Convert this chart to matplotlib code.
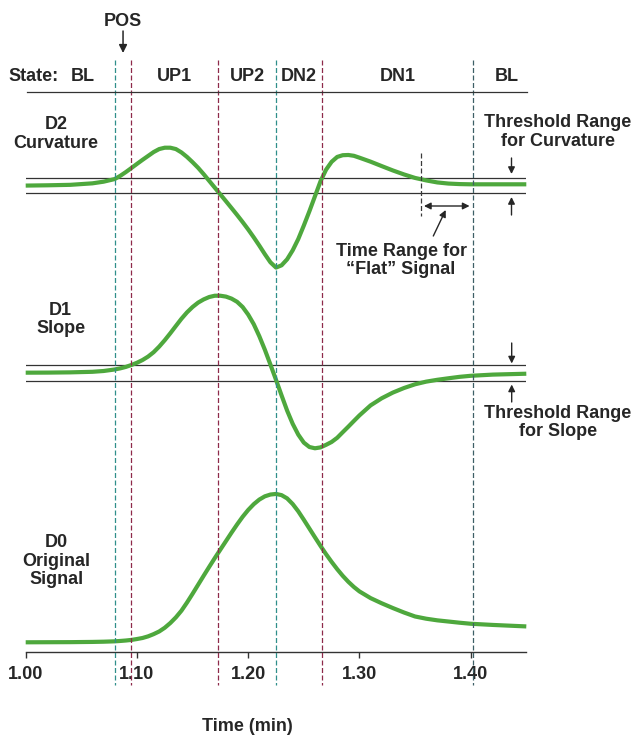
import numpy as np
import matplotlib.pyplot as plt
from matplotlib.transforms import blended_transform_factory

plt.rcParams['font.family'] = ['Liberation Sans', 'DejaVu Sans']
plt.rcParams['font.weight'] = 'bold'

#-----------------------------------
#------ data ----
#-----------------------------------
time = [1.00, 1.02, 1.04, 1.06, 1.07,
        1.080, 1.085, 1.090, 1.095, 1.100, 1.105, 1.110, 1.115, 1.120, 1.125,
        1.130, 1.135, 1.140, 1.145, 1.150, 1.155, 1.160, 1.165, 1.170, 1.175,
        1.180, 1.185, 1.190, 1.195, 1.200, 1.205, 1.210, 1.215, 1.220, 1.225,
        1.230, 1.235, 1.240, 1.245, 1.250, 1.255, 1.260, 1.265, 1.270, 1.275,
        1.280, 1.285, 1.290, 1.295, 1.300,
        1.31, 1.32, 1.33, 1.34, 1.35, 1.36, 1.37, 1.38, 1.39, 1.40, 1.42, 1.45]

# D0 original signal (peak = 100)
d0 = [0.0, 0.05, 0.1, 0.25, 0.4,
      0.65, 0.9, 1.2, 1.6, 2.2, 2.9, 4.0, 5.5, 7.3, 9.8,
      13.0, 16.8, 21.3, 26.8, 32.7, 38.8, 44.9, 50.9, 56.8, 62.5,
      68.2, 73.9, 79.4, 84.6, 89.2, 93.1, 96.2, 98.4, 99.6, 100.0,
      99.2, 97.0, 93.2, 88.3, 82.6, 76.7, 70.8, 65.0, 59.4, 54.2,
      49.3, 44.8, 40.8, 37.3, 34.3,
      29.8, 26.3, 23.1, 20.1, 17.4, 15.9, 14.8, 14.0, 13.2, 12.5, 11.7, 10.7]

# D1 slope (threshold = +/-1)
d1 = [0.04, 0.05, 0.08, 0.15, 0.25,
      0.44, 0.58, 0.76, 1.00, 1.28, 1.62, 2.05, 2.60, 3.30, 4.10,
      4.97, 5.88, 6.78, 7.58, 8.25, 8.80, 9.20, 9.50, 9.66, 9.66,
      9.55, 9.30, 8.90, 8.25, 7.30, 6.10, 4.60, 2.90, 1.05, -0.85,
      -2.80, -4.70, -6.35, -7.70, -8.70, -9.25, -9.41, -9.30, -8.98, -8.62,
      -8.10, -7.40, -6.71, -6.00, -5.30,
      -4.05, -3.16, -2.45, -1.88, -1.41, -1.08, -0.85, -0.66, -0.48, -0.35, -0.20, -0.09]

# D2 curvature (threshold = +/-1)
d2 = [0.03, 0.07, 0.13, 0.33, 0.55,
      0.90, 1.33, 1.83, 2.37, 2.92, 3.46, 3.98, 4.50, 4.90, 5.08,
      5.08, 4.90, 4.45, 3.85, 3.15, 2.40, 1.55, 0.65, -0.25, -1.15,
      -2.05, -2.96, -3.88, -4.83, -5.82, -6.87, -7.97, -9.12, -10.20, -10.90,
      -10.60, -9.80, -8.60, -7.10, -5.30, -3.40, -1.40, 0.60, 2.15, 3.20,
      3.85, 4.08, 4.11, 4.00, 3.75,
      3.22, 2.63, 2.05, 1.52, 1.05, 0.72, 0.45, 0.30, 0.23, 0.20, 0.20, 0.20]

threshold = 1.0
state_bounds = [1.080, 1.095, 1.173, 1.225, 1.266, 1.402]
bound_colors = ["#2f8f8a", "#8e2a4a", "#8e2a4a", "#2f8f8a", "#8e2a4a", "#3d5f66"]
states = ["UP1", "UP2", "DN2", "DN1", "BL"]
flat_start = 1.355
xticks = [1.00, 1.10, 1.20, 1.30, 1.40]

green = "#4ea83d"
ink = "#262626"
fs = 13

W, H = 635, 735
fig = plt.figure(figsize=(W / 100, H / 100), dpi=100)

left, right = 25.7, 526.3
def panel(top, bottom, ylim):
    ax = fig.add_axes([left / W, 1 - bottom / H, (right - left) / W, (bottom - top) / H])
    ax.set_xlim(1.0, 1.45)
    ax.set_ylim(*ylim)
    ax.patch.set_alpha(0)
    for s in ax.spines.values():
        s.set_visible(False)
    ax.set_xticks([])
    ax.set_yticks([])
    return ax

ax2 = panel(100, 290, (-13.89, 11.44))
ax1 = panel(290, 460, (-10.875, 10.375))
ax0 = panel(480, 651.7, (-6.34, 109.4))

for ax in (ax2, ax1):
    ax.axhline(threshold, color="#333333", lw=0.9, zorder=1)
    ax.axhline(-threshold, color="#333333", lw=0.9, zorder=1)

for ax, d in ((ax2, d2), (ax1, d1), (ax0, d0)):
    ax.plot(time, d, color=green, lw=3, solid_joinstyle="round",
            solid_capstyle="butt", clip_on=False, zorder=3)

# time axis
ax0.spines["bottom"].set_visible(True)
ax0.spines["bottom"].set_color("#333333")
ax0.spines["bottom"].set_linewidth(1.0)
ax0.set_xticks(xticks)
ax0.set_xticklabels(["%.2f" % t for t in xticks])
ax0.tick_params(axis="x", direction="out", length=4, width=1, color="#333333",
                labelsize=13, labelcolor=ink, pad=6)

# layout overlay in pixel rows
lay = fig.add_axes([0, 0, 1, 1])
lay.set_xlim(0, W)
lay.set_ylim(H, 0)
lay.axis("off")
tr = blended_transform_factory(ax0.transData, lay.transData)

for b, c in zip(state_bounds, bound_colors):
    lay.plot([b, b], [60, 685], transform=tr, color=c, lw=0.9,
             ls=(0, (4, 2)), clip_on=False, zorder=2)
lay.plot([flat_start, flat_start], [153, 216], transform=tr, color="#3a3a3a",
         lw=0.9, ls=(0, (4, 2)), clip_on=False)

# state row
lay.plot([27, 527], [92, 92], color="#333333", lw=0.9)
lay.text(8, 76.7, "State:", ha="left", va="center", fontsize=fs, color=ink)
lay.text(1.051, 76.7, "BL", transform=tr, ha="center", va="center", fontsize=fs, color=ink)
for name, a, b in zip(states, state_bounds[1:], state_bounds[2:] + [1.462]):
    lay.text((a + b) / 2, 76.7, name, transform=tr, ha="center", va="center",
             fontsize=fs, color=ink)

pos_x = (state_bounds[0] + state_bounds[1]) / 2
lay.text(pos_x, 21.7, "POS", transform=tr, ha="center", va="center", fontsize=fs, color=ink)
lay.annotate("", xy=(pos_x, 53), xytext=(pos_x, 31), xycoords=tr, textcoords=tr,
             arrowprops=dict(arrowstyle="-|>", color=ink, lw=1.1, mutation_scale=12,
                             shrinkA=0, shrinkB=0))

# panel names
lay.text(56, 134, "D2\nCurvature", ha="center", va="center", fontsize=fs,
         color=ink, linespacing=1.15)
lay.text(60.7, 319.5, "D1\nSlope", ha="center", va="center", fontsize=fs,
         color=ink, linespacing=1.15)
lay.text(56.7, 561, "D0\nOriginal\nSignal", ha="center", va="center", fontsize=fs,
         color=ink, linespacing=1.15)

# threshold annotations
lay.text(558, 132, "Threshold Range\nfor Curvature", ha="center", va="center",
         fontsize=fs, color=ink, linespacing=1.15)
lay.text(558, 422.5, "Threshold Range\nfor Slope", ha="center", va="center",
         fontsize=fs, color=ink, linespacing=1.15)

def arrow(x0, y0, x1, y1):
    lay.annotate("", xy=(x1, y1), xytext=(x0, y0),
                 arrowprops=dict(arrowstyle="-|>", color=ink, lw=1.0, mutation_scale=10,
                                 shrinkA=0, shrinkB=0))

arrow(511.5, 158, 511.5, 174)
arrow(511.5, 215, 511.5, 197)
arrow(511.7, 343, 511.7, 363.5)
arrow(511.7, 402, 511.7, 384.5)

# flat-signal time range
lay.annotate("", xy=(flat_start + 0.003, 206), xytext=(state_bounds[-1] - 0.003, 206),
             xycoords=tr, textcoords=tr,
             arrowprops=dict(arrowstyle="<|-|>", color=ink, lw=1.0, mutation_scale=10,
                             shrinkA=0, shrinkB=0))
arrow(433.3, 236, 445.7, 210)
lay.text(401, 260.5, "Time Range for\n\u201cFlat\u201d Signal", ha="center", va="center",
         fontsize=fs, color=ink, linespacing=1.15)

lay.text(247, 726.7, "Time (min)", ha="center", va="center", fontsize=fs, color=ink)

fig.savefig("out.png", dpi=100)
